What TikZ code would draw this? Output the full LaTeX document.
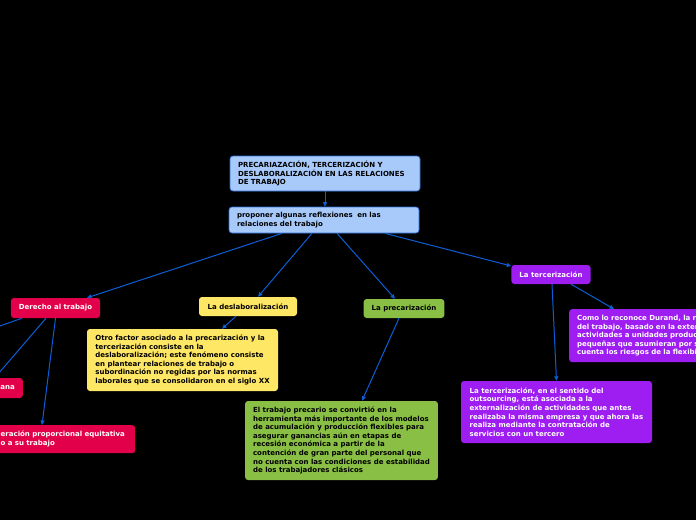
\documentclass[tikz,border=0pt]{standalone}
\usepackage{fontspec}
\setmainfont{DejaVu Sans}
\usetikzlibrary{arrows.meta}
\definecolor{lblue}{HTML}{A8CAFB}
\definecolor{bborder}{HTML}{2F6FD8}
\definecolor{mred}{HTML}{E3004B}
\definecolor{myel}{HTML}{FFE766}
\definecolor{mgreen}{HTML}{8ABF46}
\definecolor{mpurp}{HTML}{9E1DF1}
\definecolor{linec}{HTML}{0B5ED7}
\tikzset{
  conn/.style={draw=linec, line width=1pt, -{Triangle[length=4.5pt,width=4pt]}},
  box/.style={rounded corners=3pt, font=\bfseries\fontsize{7}{8.6}\selectfont, align=left, inner xsep=8pt, inner ysep=2pt},
  tbox/.style={box, align=center},
  bluebox/.style={box, fill=lblue, draw=bborder, line width=0.7pt, text=black, text width=174pt},
  redbox/.style={fill=mred, text=white},
  yelbox/.style={fill=myel, text=black},
  grnbox/.style={fill=mgreen, text=black},
  purbox/.style={fill=mpurp, text=white},
}
\begin{document}
\begin{tikzpicture}[x=1pt,y=-1pt]
\useasboundingbox (0,0) rectangle (696,520);
\fill[black] (0,0) rectangle (696,520);
\clip (0,0) rectangle (696,520);

\node[bluebox, minimum width=190pt, minimum height=35pt] (title) at (325,173.5)
  {PRECARIAZACIÓN, TERCERIZACIÓN Y\\DESLABORALIZACIÓN EN LAS RELACIONES\\DE TRABAJO};
\node[bluebox, minimum width=190pt, minimum height=26pt] (prop) at (324,220)
  {proponer algunas reflexiones\ \ en las\\relaciones del trabajo};

\node[tbox, redbox, minimum width=89pt, minimum height=20pt] (der) at (55.5,308) {Derecho al trabajo};
\node[tbox, yelbox, minimum width=98pt, minimum height=19pt] (deslab) at (248,306.5) {La deslaboralización};
\node[tbox, grnbox, minimum width=80pt, minimum height=19pt] (precar) at (404,308.5) {La precarización};
\node[tbox, purbox, minimum width=78pt, minimum height=19pt] (tercer) at (551,274.5) {La tercerización};

\node[box, yelbox, minimum width=191pt, minimum height=62pt] (otro) at (182.5,360)
  {Otro factor asociado a la precarización y la\\tercerización consiste en la\\deslaboralización; este fenómeno consiste\\en plantear relaciones de trabajo o\\subordinación no regidas por las normas\\laborales que se consolidaron en el siglo XX};
\node[box, grnbox, minimum width=191pt, minimum height=79pt] (trab) at (341.5,440.5)
  {El trabajo precario se convirtió en la\\herramienta más importante de los modelos\\de acumulación y producción flexibles para\\asegurar ganancias aún en etapas de\\recesión económica a partir de la\\contención de gran parte del personal que\\no cuenta con las condiciones de estabilidad\\de los trabajadores clásicos};
\node[box, purbox, minimum width=191pt, minimum height=62pt] (sent) at (556.5,412)
  {La tercerización, en el sentido del\\outsourcing, está asociada a la\\externalización de actividades que antes\\realizaba la misma empresa y que ahora las\\realiza mediante la contratación de\\servicios con un tercero};
\node[box, purbox, anchor=north west, minimum width=191pt, minimum height=53pt, text width=175pt] (como) at (569,309)
  {Como lo reconoce Durand, la r\\del trabajo, basado en la exter\\actividades a unidades produc\\pequeñas que asumieran por s\\cuenta los riesgos de la flexibi};

\node[box, redbox, anchor=east, minimum width=100pt, minimum height=20pt, text width=84pt, align=right] (hum) at (23,388) {ana};
\node[box, redbox, anchor=north west, minimum width=175pt, minimum height=28pt, text width=166pt, inner xsep=1pt] (rem) at (-40,425)
  {\hspace*{36pt}eración proporcional equitativa\\\hspace*{36pt}o a su trabajo};

\coordinate (offa) at (-40,340);
\coordinate (offb) at (-20,395);

\draw[conn] (title.south) -- (title.south |- prop.north);
\draw[conn] ([xshift=-42pt]prop.south) -- ([xshift=31.5pt]der.north);
\draw[conn] ([xshift=-12pt]prop.south) -- ([xshift=10pt]deslab.north);
\draw[conn] ([xshift=13pt]prop.south) -- ([xshift=-9pt]precar.north);
\draw[conn] ([xshift=61pt]prop.south) -- ([yshift=8.5pt]tercer.west);
\draw[conn] ([xshift=-12pt]deslab.south) -- ([xshift=39.5pt]otro.north);
\draw[conn] ([xshift=-5pt]precar.south) -- ([xshift=20.5pt]trab.north);
\draw[conn] ([xshift=1pt]tercer.south) -- (sent.north);
\draw[conn] ([xshift=20pt]tercer.south) -- ([xshift=45pt]como.north west);
\draw[conn] (der.south) -- ([xshift=82pt]rem.north west);
\draw[conn] ([xshift=-9.5pt]der.south) -- (offb);
\draw[conn] ([xshift=-33.5pt]der.south) -- (offa);
\end{tikzpicture}
\end{document}
